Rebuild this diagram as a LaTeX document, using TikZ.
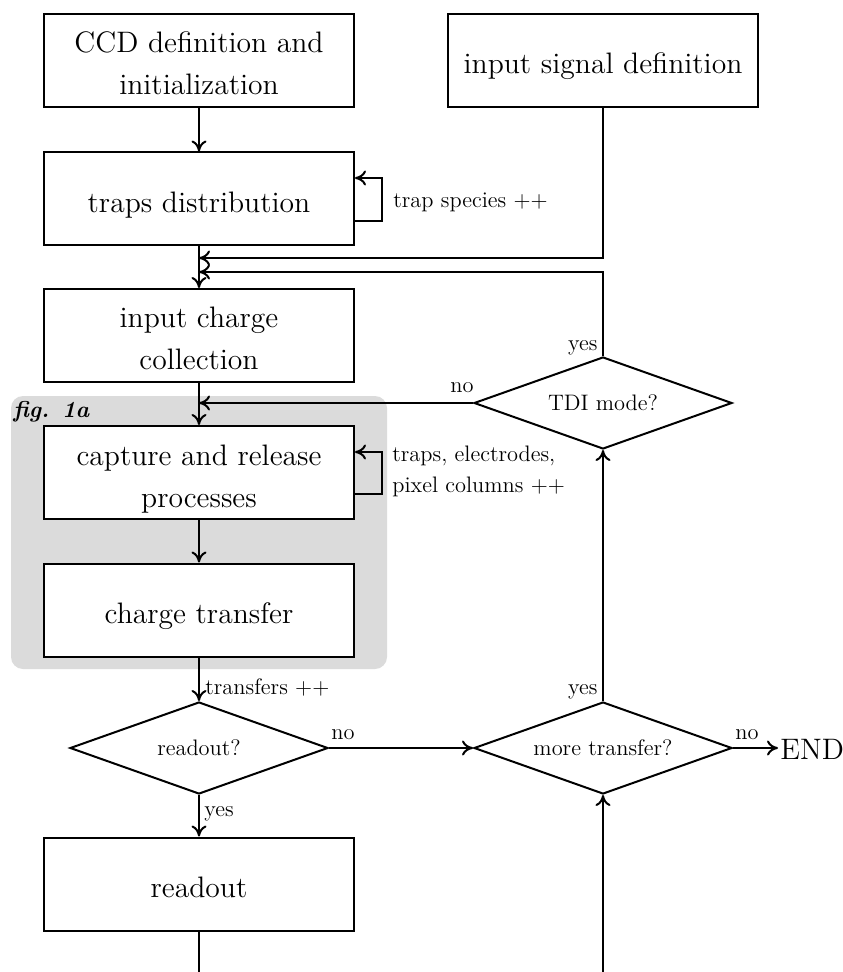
\documentclass[tikz,border=0pt]{standalone}
\usetikzlibrary{shapes.geometric,arrows.meta,calc}
\begin{document}
\begin{tikzpicture}[x=0.5pt,y=-0.5pt,
  every node/.style={inner sep=0pt},
  box/.style={draw, line width=1pt, fill=white, minimum width=155pt, minimum height=46.5pt, align=center, text height=17pt, text depth=3.5pt, font=\fontsize{14.8}{21}\selectfont},
  boxtwo/.style={box, text height=38pt},
  dia/.style={draw, diamond, shape aspect=2.8, line width=1pt, fill=white, minimum width=129pt, minimum height=46pt, inner sep=0pt, font=\fontsize{11.2}{14}\selectfont},
  lbl/.style={font=\fontsize{11.2}{15.5}\selectfont},
  arr/.style={line width=1pt, -{To[length=5.5pt,width=7.5pt]}},
  ln/.style={line width=1pt}]
\useasboundingbox (0,0) rectangle (842,972);
% grey group
\fill[black!14, rounded corners=6pt] (11,396) rectangle (387,669);
\node[anchor=west, font=\fontsize{11.5}{14}\selectfont\bfseries\itshape] (fig) at (13,412) {fig. 1a};
% boxes
\node[boxtwo] (ccd) at (199,60.5) {CCD definition and\\initialization};
\node[box] (sig) at (603,60.5) {input signal definition};
\node[box] (traps) at (199,199) {traps distribution};
\node[boxtwo] (coll) at (199,335.5) {input charge\\collection};
\node[boxtwo] (cap) at (199,472.5) {capture and release\\processes};
\node[box] (tr) at (199,610) {charge transfer};
\node[dia] (rdq) at (199,748) {readout?};
\node[box] (rdo) at (199,884) {readout};
\node[dia] (tdi) at (603,403) {TDI mode?};
\node[dia] (more) at (603,748) {more transfer?};
\node[anchor=west, font=\fontsize{14.8}{21}\selectfont, inner sep=1pt] (end) at (778,749) {END};
% coordinates
\coordinate (j1) at (199,258);
\coordinate (j2) at (199,272);
\coordinate (j3) at (199,403);
\coordinate (b1) at (199,972);
\coordinate (b2) at (603,972);
% connectors
\draw[arr] (ccd) -- (traps);
\draw[arr] (sig.south) |- (j1);
\draw[arr] (traps) -- (coll);
\draw[arr] (tdi.north) |- (j2);
\draw[arr] ([yshift=-11pt]traps.east) -- ++(13.5pt,0) |- ([yshift=10.5pt]traps.east);
\draw[arr] (coll) -- (cap);
\draw[arr] (tdi.west) -- (j3);
\draw[arr] ([yshift=-10.75pt]cap.east) -- ++(13.5pt,0) |- ([yshift=10.25pt]cap.east);
\draw[arr] (cap) -- (tr);
\draw[arr] (tr) -- (rdq);
\draw[arr] (rdq.east) -- (more.west);
\draw[arr] (rdq.south) -- (rdo.north);
\draw[arr] (more.north) -- (tdi.south);
\draw[arr] (more.east) -- (more.east -| end.west);
\draw[ln] (rdo.south) -- (b1);
\draw[arr] (b2) -- (more.south);
% labels
\node[lbl, anchor=west] (l1) at (393,202) {trap species ++};
\node[lbl, anchor=west, align=left] (l2) at (392,471.5) {traps, electrodes,\\pixel columns ++};
\node[lbl, anchor=east] (l3) at (598,348) {yes};
\node[lbl, anchor=east] (l4) at (474,388) {no};
\node[lbl, anchor=west] (l5) at (205,687) {transfers ++};
\node[lbl, anchor=west] (l6) at (331,735) {no};
\node[lbl, anchor=east] (l7) at (598,692) {yes};
\node[lbl, anchor=west] (l8) at (735,735) {no};
\node[lbl, anchor=west] (l9) at (204,814) {yes};
\end{tikzpicture}
\end{document}
